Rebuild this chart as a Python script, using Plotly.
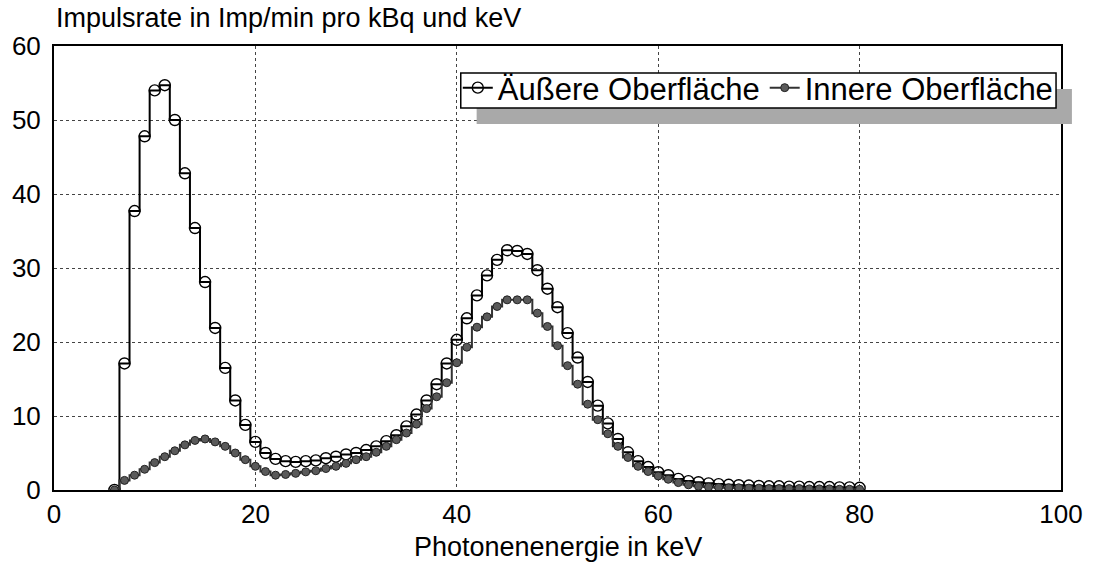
import plotly.graph_objects as go

# Photon energy channels in keV
energie = list(range(6, 81))

# Count rate per kBq and keV, outer surface
aussen = [
    0.0, 17.1, 37.7, 47.8, 54.0, 54.7, 50.0, 42.8, 35.4, 28.1,
    21.9, 16.5, 12.1, 8.8, 6.5, 5.0, 4.2, 3.9, 3.8, 3.9,
    4.0, 4.3, 4.5, 4.8, 5.0, 5.4, 5.9, 6.6, 7.4, 8.6,
    10.2, 12.1, 14.3, 17.1, 20.3, 23.2, 26.3, 29.0, 31.1, 32.4,
    32.3, 31.9, 29.7, 27.2, 24.7, 21.2, 17.9, 14.6, 11.4, 9.0,
    6.9, 5.1, 3.9, 3.1, 2.4, 2.0, 1.5, 1.2, 1.05, 0.9,
    0.8, 0.7, 0.65, 0.6, 0.55, 0.5, 0.5, 0.45, 0.45, 0.4,
    0.4, 0.4, 0.35, 0.35, 0.3,
]

# Count rate per kBq and keV, inner surface
innen = [
    0.0, 1.3, 2.0, 2.8, 3.7, 4.5, 5.3, 6.1, 6.7, 6.9,
    6.5, 5.9, 5.0, 4.1, 3.2, 2.5, 2.0, 2.1, 2.25, 2.45,
    2.6, 2.9, 3.2, 3.6, 4.1, 4.5, 5.1, 5.9, 6.8, 7.7,
    8.9, 11.0, 12.6, 14.5, 17.2, 19.3, 22.0, 23.4, 24.8, 25.7,
    25.7, 25.7, 23.9, 22.1, 19.5, 16.8, 14.3, 11.6, 9.5, 7.6,
    5.9, 4.4, 3.2, 2.5, 1.9, 1.45, 1.0, 0.7, 0.5, 0.4,
    0.35, 0.3, 0.3, 0.25, 0.25, 0.2, 0.2, 0.2, 0.2, 0.15,
    0.15, 0.15, 0.1, 0.1, 0.1,
]

serien = ["Äußere Oberfläche", "Innere Oberfläche"]
x_ticks = [0, 20, 40, 60, 80, 100]
y_ticks = [0, 10, 20, 30, 40, 50, 60]

FONT = "Liberation Sans, Arial, sans-serif"

fig = go.Figure()

fig.add_trace(go.Scatter(
    x=energie, y=aussen, name=serien[0],
    mode="lines+markers", line=dict(shape="hvh", color="black", width=2),
    marker=dict(symbol="circle-open", size=11, color="black", line=dict(width=1.4)),
))
fig.add_trace(go.Scatter(
    x=energie, y=innen, name=serien[1],
    mode="lines+markers", line=dict(shape="hvh", color="#333333", width=2),
    marker=dict(symbol="circle", size=8, color="#5a5a5a", line=dict(width=1, color="#222222")),
))

L, R, T, B = 52, 28, 46, 93
W, H = 1095, 583
pw, ph = W - L - R, H - T - B

def px_x(p):
    return (p - L) / pw

def px_y(p):
    return (H - B - p) / ph

# Legend frame with a drop shadow
fig.add_shape(
    type="rect", xref="paper", yref="paper",
    x0=px_x(478), x1=px_x(1078), y0=px_y(124), y1=px_y(89),
    fillcolor="#a9a9a9", line=dict(width=0), layer="above",
)
fig.add_shape(
    type="rect", xref="paper", yref="paper",
    x0=px_x(462), x1=px_x(1062), y0=px_y(108), y1=px_y(73),
    fillcolor="white", line=dict(width=1.5, color="black"), layer="above",
)

fig.add_annotation(
    text="Impulsrate in Imp/min pro kBq und keV", xref="paper", yref="paper",
    x=0, y=px_y(18), xanchor="left", yanchor="middle", showarrow=False,
    font=dict(size=27, color="black", family=FONT),
)
fig.add_annotation(
    text="Photonenenergie in keV", xref="paper", yref="paper",
    x=0.5, y=px_y(547), xanchor="center", yanchor="middle", showarrow=False,
    font=dict(size=27, color="black", family=FONT),
)

axis_common = dict(
    showline=True, linecolor="black", linewidth=2, mirror=True,
    showgrid=True, gridcolor="#444444", gridwidth=1, griddash="dot",
    zeroline=False, ticks="",
    tickfont=dict(size=26, color="black", family=FONT),
)

fig.update_xaxes(range=[0, 100], tickvals=x_ticks, ticklabelstandoff=0, **axis_common)
fig.update_yaxes(range=[0, 60], tickvals=y_ticks, ticklabelstandoff=6, **axis_common)

fig.update_layout(
    width=W, height=H,
    margin=dict(l=L, r=R, t=T, b=B),
    paper_bgcolor="white", plot_bgcolor="white",
    font=dict(family=FONT, color="black"),
    showlegend=True,
    legend=dict(
        orientation="h", x=px_x(459), y=px_y(88), xanchor="left", yanchor="middle",
        bgcolor="rgba(0,0,0,0)", borderwidth=0,
        font=dict(size=31, color="black", family=FONT),
        itemwidth=30, tracegroupgap=0,
    ),
)

fig.write_html("out.html")
